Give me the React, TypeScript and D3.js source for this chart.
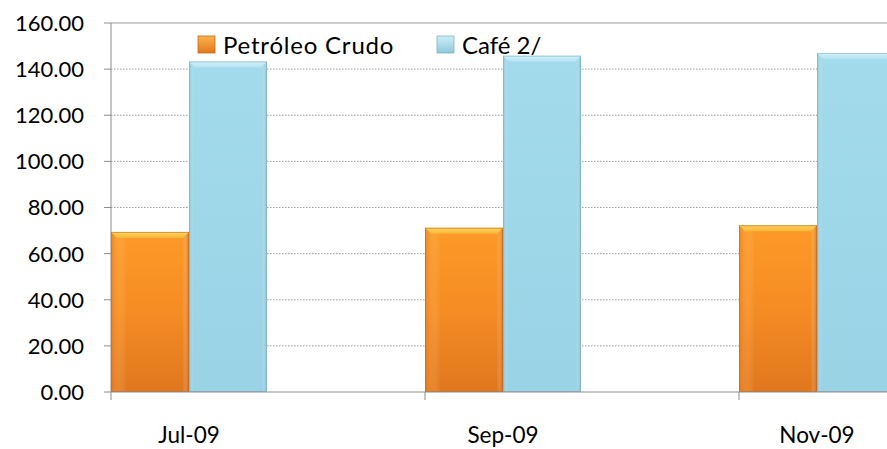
import React from 'react';
import * as d3 from 'd3';

const categories = ['Jul-09', 'Sep-09', 'Nov-09'];
const seriesNames = ['Petróleo Crudo', 'Café 2/'];
const petroleo = [69.4, 71.2, 72.3];
const cafe = [143.3, 145.8, 147.0];
const yTicks = [0, 20, 40, 60, 80, 100, 120, 140, 160];

const W = 887;
const H = 449;
const font = 'Lato, "Open Sans", sans-serif';

const App: React.FC = () => {
    const left = 111;
    const step = 314;
    const x = d3.scaleBand<string>()
        .domain(categories)
        .range([left, left + step * categories.length])
        .paddingInner(0)
        .paddingOuter(0);
    // the bar pair fills the first half of each category band
    const xs = d3.scaleBand<string>().domain(seriesNames).range([0, 156]);
    const y = d3.scaleLinear().domain([0, 160]).range([392, 23]);

    const series = [
        { name: seriesNames[0], values: petroleo, fill: 'url(#gOrange)', side: 'url(#gOrangeSide)', edge: '#c86a1c', top: 'url(#gOrangeTop)', sq: 'url(#sqOrange)' },
        { name: seriesNames[1], values: cafe, fill: 'url(#gBlue)', side: 'url(#gBlueSide)', edge: '#7fb3c4', top: 'url(#gBlueTop)', sq: 'url(#sqBlue)' },
    ];

    const bw = xs.bandwidth();

    return (
        <div style={{ position: 'absolute', left: 0, top: 0 }}>
            <svg width={W} height={H} style={{ display: 'block', background: '#fff' }}>
                <defs>
                    <linearGradient id="gOrange" x1="0" y1="0" x2="0" y2="1">
                        <stop offset="0" stopColor="#fc9a28" />
                        <stop offset="0.5" stopColor="#f68c24" />
                        <stop offset="1" stopColor="#e0771e" />
                    </linearGradient>
                    <linearGradient id="gOrangeSide" x1="0" y1="0" x2="1" y2="0">
                        <stop offset="0" stopColor="#d9731e" stopOpacity="0.55" />
                        <stop offset="0.08" stopColor="#ffb050" stopOpacity="0.25" />
                        <stop offset="0.2" stopColor="#ffffff" stopOpacity="0" />
                        <stop offset="0.92" stopColor="#ffffff" stopOpacity="0" />
                        <stop offset="1" stopColor="#b8601a" stopOpacity="0.55" />
                    </linearGradient>
                    <linearGradient id="gOrangeTop" x1="0" y1="0" x2="0" y2="1">
                        <stop offset="0" stopColor="#fcd862" />
                        <stop offset="1" stopColor="#f9b534" />
                    </linearGradient>
                    <linearGradient id="gBlue" x1="0" y1="0" x2="0" y2="1">
                        <stop offset="0" stopColor="#a3dbec" />
                        <stop offset="1" stopColor="#9ad3e6" />
                    </linearGradient>
                    <linearGradient id="gBlueSide" x1="0" y1="0" x2="1" y2="0">
                        <stop offset="0" stopColor="#6fa4b5" stopOpacity="0.5" />
                        <stop offset="0.06" stopColor="#ffffff" stopOpacity="0" />
                        <stop offset="0.94" stopColor="#ffffff" stopOpacity="0" />
                        <stop offset="1" stopColor="#6b9fb0" stopOpacity="0.6" />
                    </linearGradient>
                    <linearGradient id="gBlueTop" x1="0" y1="0" x2="0" y2="1">
                        <stop offset="0" stopColor="#d4f1fa" />
                        <stop offset="1" stopColor="#b2e3f2" />
                    </linearGradient>
                    <linearGradient id="sqOrange" x1="0" y1="0" x2="0" y2="1">
                        <stop offset="0" stopColor="#fbb24a" />
                        <stop offset="1" stopColor="#e2781f" />
                    </linearGradient>
                    <linearGradient id="sqBlue" x1="0" y1="0" x2="0" y2="1">
                        <stop offset="0" stopColor="#cdeef8" />
                        <stop offset="1" stopColor="#8fc8db" />
                    </linearGradient>
                </defs>

                {/* gridlines */}
                {yTicks.filter((t) => t > 0 && t < 160).map((t) => (
                    <line key={t} x1={left} x2={W} y1={y(t)} y2={y(t)}
                        stroke="#9a9a9a" strokeWidth={1} strokeDasharray="1.5,1.5" />
                ))}
                <line x1={left} x2={W} y1={y(160)} y2={y(160)} stroke="#9a9a9a" strokeWidth={1} />

                {/* bars */}
                {series.map((s) =>
                    categories.map((c, i) => {
                        const bx = (x(c) as number) + (xs(s.name) as number);
                        const by = y(s.values[i]);
                        const bh = y(0) - by;
                        const bev = 6;
                        return (
                            <g key={s.name + c}>
                                <rect x={bx} y={by} width={bw} height={bh} fill={s.fill} />
                                <rect x={bx} y={by} width={bw} height={bh} fill={s.side} />
                                <polygon
                                    points={`${bx},${by} ${bx + bw},${by} ${bx + bw - bev},${by + bev} ${bx + bev},${by + bev}`}
                                    fill={s.top} />
                                <rect x={bx + 0.5} y={by + 0.5} width={bw - 1} height={bh - 1}
                                    fill="none" stroke={s.edge} strokeOpacity={0.6} strokeWidth={1} />
                            </g>
                        );
                    })
                )}

                {/* axes */}
                <line x1={left} x2={left} y1={y(160)} y2={y(0)} stroke="#8c8c8c" strokeWidth={1} />
                <line x1={left} x2={W} y1={y(0)} y2={y(0)} stroke="#8c8c8c" strokeWidth={1} />
                {yTicks.map((t) => (
                    <g key={'yt' + t}>
                        <line x1={left - 7} x2={left} y1={y(t)} y2={y(t)} stroke="#8c8c8c" />
                        <text x={84} y={y(t)} dy="0.36em" textAnchor="end"
                            fontFamily={font} fontSize={22} fill="#000">{t.toFixed(2)}</text>
                    </g>
                ))}
                {categories.map((c) => (
                    <g key={'xt' + c}>
                        <line x1={x(c) as number} x2={x(c) as number} y1={y(0)} y2={y(0) + 8} stroke="#8c8c8c" />
                        <text x={(x(c) as number) + 78} y={443} textAnchor="middle"
                            fontFamily={font} fontSize={22.5} fill="#000">{c}</text>
                    </g>
                ))}

                {/* legend */}
                {series.map((s, i) => {
                    const lx = i === 0 ? 198 : 437;
                    return (
                        <g key={'lg' + s.name}>
                            <rect x={lx} y={36} width={17} height={17} fill={s.sq} stroke={s.edge} strokeWidth={0.8} />
                            <text x={lx + 25} y={45} dy="0.36em" fontFamily={font} fontSize={24}
                                letterSpacing={i === 0 ? 0.8 : 0} fill="#000">{s.name}</text>
                        </g>
                    );
                })}
            </svg>
        </div>
    );
};

export default App;
